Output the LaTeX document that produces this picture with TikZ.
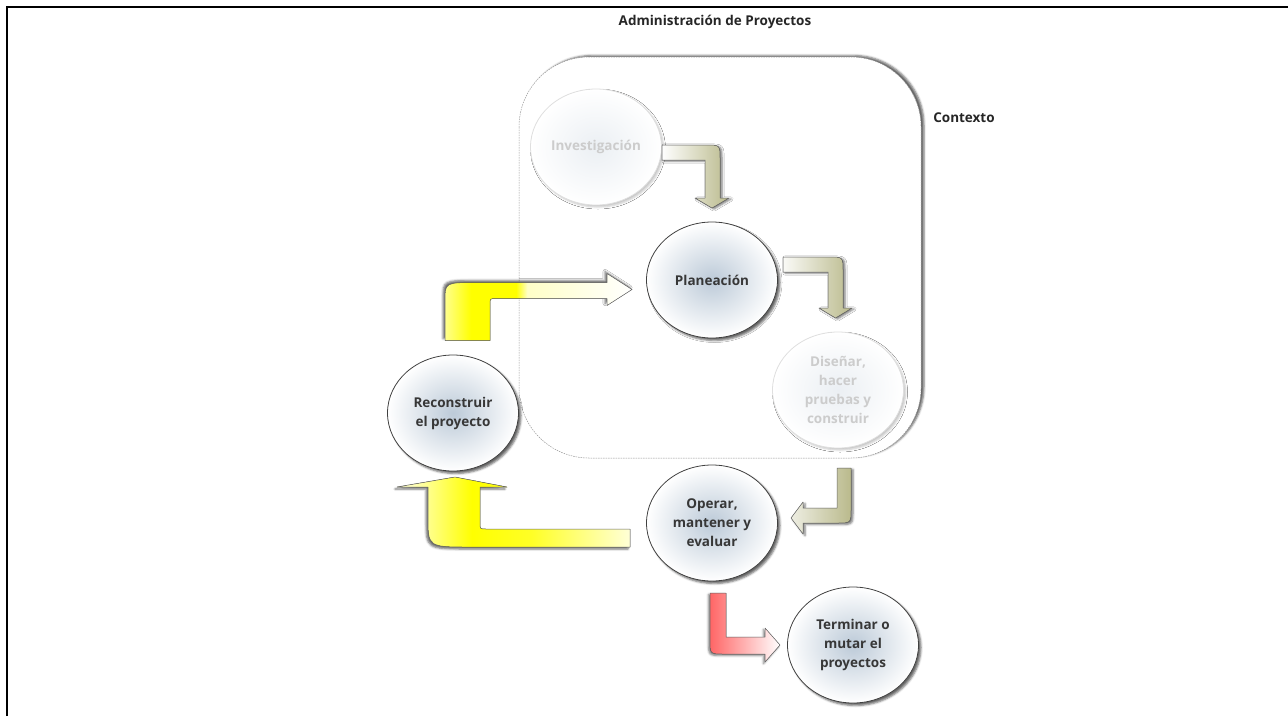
\documentclass[tikz,border=0pt]{standalone}
\usepackage{fontspec}
\setmainfont{Open Sans}
\usetikzlibrary{shapes.geometric,shadows.blur}

\definecolor{stageblue}{RGB}{188,202,216}
\definecolor{olivegr}{RGB}{186,186,140}
\definecolor{txtgray}{RGB}{55,55,55}

% yellow that dies out to the right
\pgfdeclarehorizontalshading{yellowfade}{100bp}{color(0bp)=(yellow!45); color(25bp)=(yellow!45); color(32bp)=(yellow); color(44bp)=(yellow); color(47bp)=(yellow!22); color(75bp)=(white); color(100bp)=(white)}
\pgfdeclarehorizontalshading{yellowback}{100bp}{color(0bp)=(yellow!25); color(28bp)=(yellow!25); color(40bp)=(yellow); color(52bp)=(yellow!85); color(75bp)=(yellow!4); color(100bp)=(yellow!4)}

\tikzset{
  stage/.style={ellipse, draw=black!75, line width=0.8pt, inner sep=0pt, outer sep=0pt,
    minimum width=131pt, minimum height=116pt, inner color=stageblue, outer color=white,
    align=center, text=txtgray, font=\fontsize{13.5}{19}\selectfont\bfseries,
    blur shadow={shadow xshift=2.5pt, shadow yshift=-2.5pt, shadow blur radius=2pt, shadow opacity=60}},
  fadedstage/.style={stage, draw=gray!25, inner color=stageblue!30, text=gray!40,
    blur shadow={shadow xshift=2pt, shadow yshift=-2pt, shadow opacity=12}},
  ctxbox/.style={rounded corners=70pt, fill=white, draw=gray!80, line width=0.5pt,
    dash pattern=on 1.5pt off 1pt,
    blur shadow={shadow xshift=3pt, shadow yshift=1.5pt, shadow opacity=60, shadow blur radius=2pt}},
  blockarr/.style={draw=black!60, line width=0.5pt, line join=round},
  labeltext/.style={text=black!85, font=\fontsize{13.5}{15}\selectfont\bfseries}
}

\begin{document}
\begin{tikzpicture}[x=1pt,y=-1pt]
\useasboundingbox (0,0) rectangle (1288,716);

% page frame
\draw[line width=2pt] (7,716) -- (7,7) -- (1288,7);

\node[labeltext] (title) at (715,22) {Administración de Proyectos};

% context
\draw[ctxbox] (519,57) rectangle (921,458);
\node[labeltext] (ctx) at (964,118) {Contexto};

% stages
\node[fadedstage] (inv) at (596,147) {Investigación};
\node[stage] (plan) at (712,280) {Planeación};
\node[fadedstage] (dis) at (838,390) {Diseñar,\\hacer\\pruebas y\\construir};
\node[stage] (rec) at (453,413) {Reconstruir\\el proyecto};
\node[stage] (op) at (712,523) {Operar,\\mantener y\\evaluar};
\node[stage] (ter) at (853,645) {Terminar o\\mutar el\\proyectos};

% bent arrows
\filldraw[blockarr, left color=white, right color=olivegr,
  blur shadow={shadow xshift=2pt, shadow yshift=-1pt, shadow opacity=55}]
  (inv.east) ++(0.5,-2) -- ++(44,0) .. controls +(14,0) .. ++(14,14) -- ++(0,39) -- ++(9,0)
  -- ++(-17,10) -- ++(-17,-10) -- ++(10,0) -- ++(0,-38) -- ++(-43,0) -- cycle;
\filldraw[blockarr, left color=white, right color=olivegr,
  blur shadow={shadow xshift=2pt, shadow yshift=-1pt, shadow opacity=55}]
  (plan.east) ++(5.5,-23) -- ++(46,0) .. controls +(14,0) .. ++(14,14) -- ++(0,37) -- ++(9,0)
  -- ++(-16.5,10) -- ++(-16.5,-10) -- ++(9,0) -- ++(0,-36) -- ++(-45,0) -- cycle;
\filldraw[blockarr, left color=olivegr!25, right color=olivegr,
  blur shadow={shadow xshift=2pt, shadow yshift=-1.5pt, shadow opacity=55}]
  (dis.south) ++(-1,20) -- ++(14,0) -- ++(0,41) .. controls +(0,14) .. ++(-14,14) -- ++(-34,0)
  -- ++(0,11) -- ++(-12,-16) -- ++(12,-16) -- ++(0,6) -- ++(34,0) -- cycle;
\filldraw[blockarr, left color=red!60, right color=white,
  blur shadow={shadow xshift=-1.5pt, shadow yshift=-1.5pt, shadow opacity=55}]
  (op.south) ++(-2,12) -- ++(16,0) -- ++(0,44) -- ++(39,0) -- ++(0,-9) -- ++(15,17)
  -- ++(-15,17) -- ++(0,-8) -- ++(-41,0) .. controls +(-14,0) .. ++(-14,-14) -- cycle;
\filldraw[blockarr, shading=yellowback,
  blur shadow={shadow xshift=-2pt, shadow yshift=-2pt, shadow opacity=60}]
  (op.west) ++(-16.5,6) -- ++(0,18) -- ++(-160,0) .. controls +(-42,0) .. ++(-42,-30) -- ++(0,-30)
  -- ++(-31,0) -- ++(58,-10) -- ++(52,10) -- ++(-27,0) -- ++(0,36) .. controls +(0,6) .. ++(6,6) -- cycle;
\filldraw[blockarr, shading=yellowfade,
  blur shadow={shadow xshift=-2pt, shadow yshift=2pt, shadow opacity=60}]
  (rec.north) ++(-8,-14.5) -- ++(0,-40) .. controls +(0,-18) .. ++(33,-18) -- ++(129,0) -- ++(0,-9)
  -- ++(25,16) -- ++(-25,16) -- ++(0,-7) -- ++(-111,0) .. controls +(-6,0) .. ++(-6,6) -- ++(0,36) -- cycle;
\end{tikzpicture}
\end{document}
